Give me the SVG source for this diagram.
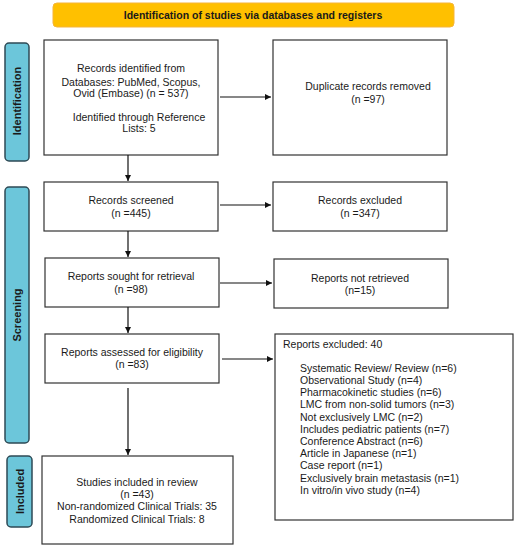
<svg xmlns="http://www.w3.org/2000/svg" width="519" height="550" viewBox="0 0 519 550">
<defs>
<style>
text{font-family:"Liberation Sans",Arial,sans-serif;fill:#1a1a1a}
.t{font-size:10.5px;text-anchor:middle}
.l{font-size:10.5px}
.box{fill:#fff;stroke:#333;stroke-width:1.2}
.side{fill:#6cc6da;stroke:#2e4a55;stroke-width:1.5}
.st{font-size:11px;font-weight:bold;text-anchor:middle}
.c{stroke:#111;stroke-width:1.2;fill:none;marker-end:url(#ah)}
</style>
<marker id="ah" viewBox="0 0 10 10" refX="10" refY="5" markerWidth="6" markerHeight="6" orient="auto" markerUnits="userSpaceOnUse">
<path d="M0,0 L10,5 L0,10 z" fill="#111"/>
</marker>
</defs>
<rect width="519" height="550" fill="#fff"/>
<g id="banner">
<rect x="53" y="3" width="401" height="24" rx="4" fill="#ffc000" stroke="#f5b53a" stroke-width="1"/>
<text x="253" y="19" style="font-size:10.5px;font-weight:bold;text-anchor:middle">Identification of studies via databases and registers</text>
</g>
<g id="label-identification">
<rect class="side" x="5" y="43" width="24" height="118" rx="4"/>
<text class="st" transform="translate(21,101) rotate(-90)">Identification</text>
</g>
<g id="label-screening">
<rect class="side" x="5" y="187" width="24" height="256" rx="4"/>
<text class="st" transform="translate(21,315) rotate(-90)">Screening</text>
</g>
<g id="label-included">
<rect class="side" x="7" y="456" width="25" height="71" rx="4"/>
<text class="st" transform="translate(23.5,491.5) rotate(-90)">Included</text>
</g>
<g id="records-identified">
<rect class="box" x="44" y="40" width="174" height="115"/>
<text class="t" x="131" y="71.5">Records identified from</text>
<text class="t" x="131" y="85.5">Databases: PubMed, Scopus,</text>
<text class="t" x="131" y="96.5">Ovid (Embase) (n = 537)</text>
<text class="t" x="139" y="120.5">Identified through Reference</text>
<text class="t" x="139" y="131.5">Lists: 5</text>
</g>
<g id="duplicates">
<rect class="box" x="273" y="40" width="174" height="115"/>
<text class="t" x="368" y="90">Duplicate records removed</text>
<text class="t" x="368" y="103">(n =97)</text>
</g>
<g id="records-screened">
<rect class="box" x="44" y="182" width="174" height="49"/>
<text class="t" x="131" y="203.5">Records screened</text>
<text class="t" x="131" y="216.5">(n =445)</text>
</g>
<g id="records-excluded">
<rect class="box" x="273" y="182" width="174" height="49"/>
<text class="t" x="360" y="203.5">Records excluded</text>
<text class="t" x="360" y="216.5">(n =347)</text>
</g>
<g id="reports-sought">
<rect class="box" x="45" y="258" width="174" height="49"/>
<text class="t" x="131" y="279.5">Reports sought for retrieval</text>
<text class="t" x="131" y="292.5">(n =98)</text>
</g>
<g id="reports-not-retrieved">
<rect class="box" x="274" y="259" width="174" height="49"/>
<text class="t" x="360" y="281.5">Reports not retrieved</text>
<text class="t" x="360" y="293.5">(n=15)</text>
</g>
<g id="reports-assessed">
<rect class="box" x="45" y="334" width="174" height="49"/>
<text class="t" x="132" y="355.5">Reports assessed for eligibility</text>
<text class="t" x="132" y="368">(n =83)</text>
</g>
<g id="reports-excluded">
<rect class="box" x="275" y="334" width="238" height="186"/>
<text class="l" x="283" y="347.5">Reports excluded: 40</text>
<text class="l" x="300" y="372">Systematic Review/ Review (n=6)</text>
<text class="l" x="300" y="384">Observational Study (n=4)</text>
<text class="l" x="300" y="396.2">Pharmacokinetic studies (n=6)</text>
<text class="l" x="300" y="408.4">LMC from non-solid tumors (n=3)</text>
<text class="l" x="300" y="420.6">Not exclusively LMC (n=2)</text>
<text class="l" x="300" y="432.8">Includes pediatric patients (n=7)</text>
<text class="l" x="300" y="445">Conference Abstract (n=6)</text>
<text class="l" x="300" y="457.2">Article in Japanese (n=1)</text>
<text class="l" x="300" y="469.4">Case report (n=1)</text>
<text class="l" x="300" y="481.6">Exclusively brain metastasis (n=1)</text>
<text class="l" x="300" y="494">In vitro/in vivo study (n=4)</text>
</g>
<g id="studies-included">
<rect class="box" x="42" y="456" width="191" height="88"/>
<text class="t" x="137" y="485.5">Studies included in review</text>
<text class="t" x="137" y="497.5">(n =43)</text>
<text class="t" x="137" y="509.5">Non-randomized Clinical Trials: 35</text>
<text class="t" x="137" y="522.5">Randomized Clinical Trials: 8</text>
</g>
<g id="connectors">
<line class="c" x1="220" y1="97" x2="271" y2="97"/>
<line class="c" x1="128" y1="155" x2="128" y2="181"/>
<line class="c" x1="220" y1="205" x2="271" y2="205"/>
<line class="c" x1="128" y1="231" x2="128" y2="257"/>
<line class="c" x1="220" y1="283" x2="272" y2="283"/>
<line class="c" x1="128" y1="307" x2="128" y2="333"/>
<line class="c" x1="222" y1="359" x2="273" y2="359"/>
<line class="c" x1="128" y1="388" x2="128" y2="455"/>
</g>
</svg>
